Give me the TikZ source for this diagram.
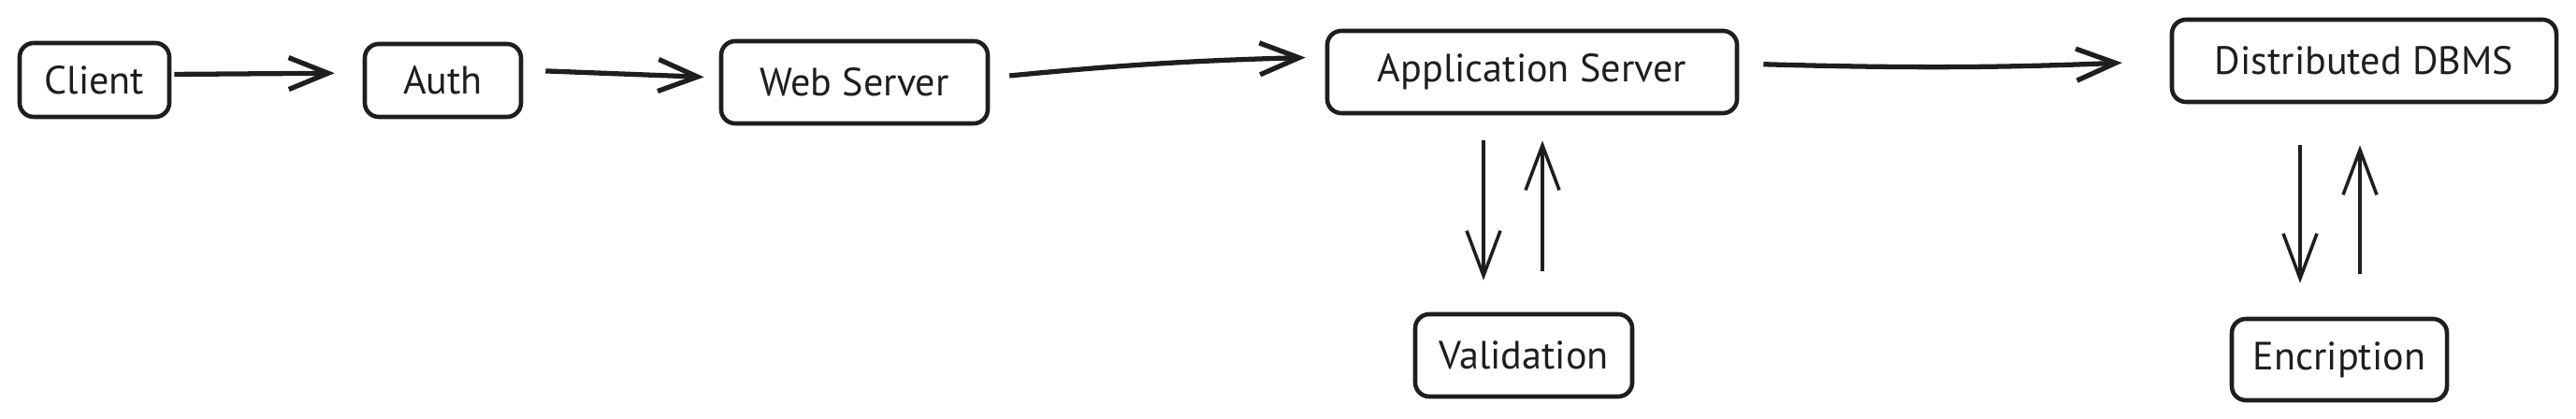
\documentclass[tikz,border=0pt]{standalone}
\usepackage{fontspec}
\setmainfont{PT Sans}
\usetikzlibrary{arrows.meta}
\definecolor{ink}{HTML}{1E1E1E}
\tikzset{
  blockbox/.style={draw=ink, line width=1.3pt, rounded corners=0.15cm,
    text=ink, font=\fontsize{12}{14}\selectfont, inner sep=0pt},
  flow/.style={draw=ink, line width=1.5pt,
    -{Straight Barb[length=0.42cm, width=0.34cm, line width=1.5pt]}},
  link/.style={draw=ink, line width=1pt,
    -{Straight Barb[length=0.48cm, width=0.36cm, line width=1pt]}},
}
\begin{document}
\begin{tikzpicture}
  \useasboundingbox (0,0) rectangle (27.54,4.48);

  % Main request chain
  \node[blockbox, minimum width=1.6cm, minimum height=0.79cm] (client) at (1.01, 3.625) {Client};
  \node[blockbox, minimum width=1.67cm, minimum height=0.78cm] (auth) at (4.735, 3.62) {Auth};
  \node[blockbox, minimum width=2.85cm, minimum height=0.88cm] (web) at (9.135, 3.6) {Web Server};
  \node[blockbox, minimum width=4.38cm, minimum height=0.88cm] (app) at (16.38, 3.71) {Application Server};
  \node[blockbox, minimum width=4.11cm, minimum height=0.88cm] (dbms) at (25.275, 3.83) {Distributed DBMS};

  % Side services
  \node[blockbox, minimum width=2.32cm, minimum height=0.88cm] (valid) at (16.29, 0.68) {Validation};
  \node[blockbox, minimum width=2.30cm, minimum height=0.87cm] (encr) at (25.01, 0.635) {Encription};

  % Horizontal flow
  \draw[flow, shorten <=0.03cm, shorten >=0.3cm] ([yshift=0.06cm]client.east) -- ([yshift=0.08cm]auth.west);
  \draw[flow, shorten <=0.24cm, shorten >=0.16cm] ([yshift=0.11cm]auth.east) -- ([yshift=0.05cm]web.west);
  \draw[flow, shorten <=0.21cm, shorten >=0.21cm] ([yshift=0.05cm]web.east) to[bend left=2] ([yshift=0.16cm]app.west);
  \draw[flow, shorten <=0.26cm, shorten >=0.51cm] ([yshift=0.09cm]app.east) to[bend right=2] (dbms.west);

  % Requests and replies
  \draw[link, shorten <=0.27cm, shorten >=0.34cm] ([xshift=-5.2mm]app.south) -- ([xshift=-5.2mm]app.south |- valid.north);
  \draw[link, shorten <=0.44cm, shorten >=0.27cm] ([xshift=2mm]valid.north) -- ([xshift=2mm]valid.north |- app.south);
  \draw[link, shorten <=0.44cm, shorten >=0.36cm] ([xshift=-4.2mm]encr.north |- dbms.south) -- ([xshift=-4.2mm]encr.north);
  \draw[link, shorten <=0.46cm, shorten >=0.44cm] ([xshift=2.2mm]encr.north) -- ([xshift=2.2mm]encr.north |- dbms.south);
\end{tikzpicture}
\end{document}
